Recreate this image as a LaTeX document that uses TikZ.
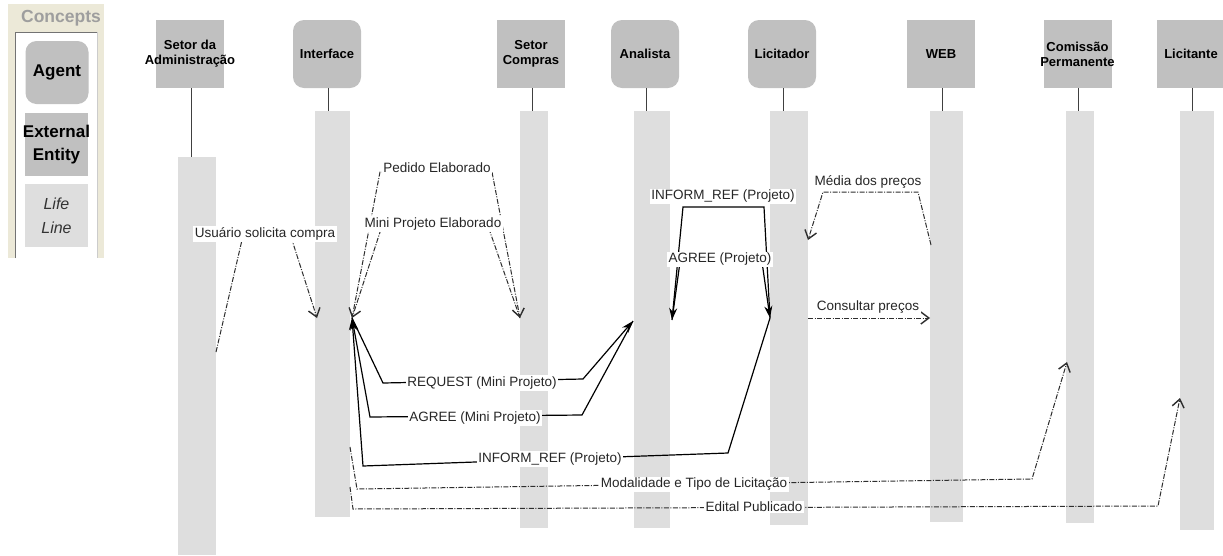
\documentclass[tikz,border=0pt]{standalone}
\usepackage{fontspec}
\setmainfont{Liberation Sans}
\usetikzlibrary{arrows.meta}
\definecolor{hdr}{HTML}{C0C0C0}
\definecolor{barfill}{HTML}{DEDEDE}
\definecolor{panel}{HTML}{ECE9D8}
\definecolor{dline}{HTML}{2E2E2E}

\begin{document}
\begin{tikzpicture}[x=1pt,y=-1pt,
  hdrbox/.style={fill=hdr, minimum width=68pt, minimum height=68pt, inner sep=0pt},
  agentbox/.style={hdrbox, rounded corners=11pt},
  hdrtext/.style={align=center, inner sep=0pt, font=\bfseries\fontsize{13}{15}\selectfont},
  legtext/.style={align=center, inner sep=0pt, font=\bfseries\fontsize{17}{23}\selectfont},
  lifebar/.style={fill=barfill, inner sep=0pt},
  stem/.style={draw=black!75, line width=1pt},
  msg/.style={draw=black, line width=1.2pt, -{Stealth[length=12pt,width=8pt]}},
  msgd/.style={draw=dline, line width=1pt, dash pattern=on 5pt off 1.5pt on 1pt off 1.5pt,
               -{Straight Barb[length=8pt,width=12pt,line width=1.4pt]}},
  lbl/.style={fill=white, inner sep=1.5pt, font=\fontsize{13.5}{16}\selectfont, text=black!85},
]
\useasboundingbox (0,0) rectangle (1223,555);
\fill[white] (0,0) rectangle (1223,555);

% ---- legend panel ----
\fill[panel] (8,4) rectangle (104,258);
\fill[white] (15,32) rectangle (97,258);
\draw[black!55, line width=1pt] (15,258) -- (15,32) -- (97,32);
\draw[black!20] (97,32) -- (97,258);
\node[font=\bfseries\fontsize{17.5}{18}\selectfont, text=black!38] (lgTitle) at (61,18) {Concepts};
\node[agentbox, minimum width=63pt, minimum height=63pt] (lgAgent) at (57,72.5) {};
\node[legtext] at (lgAgent) {Agent};
\node[hdrbox, minimum width=63pt, minimum height=63pt] (lgExt) at (56.5,144.5) {};
\node[legtext] at (lgExt) {External\\Entity};
\node[lifebar, minimum width=63pt, minimum height=63pt] (lgLife) at (56.5,215.5) {};
\node[legtext, font=\itshape\fontsize{16}{24}\selectfont, text=black!80] at (lgLife) {Life\\Line};

% ---- role headers ----
\node[hdrbox]   (hAdm) at (190,54) {};
\node[agentbox] (hIf)  at (327,54) {};
\node[hdrbox]   (hCo)  at (531,54) {};
\node[agentbox] (hAn)  at (645,54) {};
\node[agentbox] (hLi)  at (782,54) {};
\node[hdrbox]   (hWe)  at (941,54) {};
\node[hdrbox]   (hCm)  at (1077.5,54) {};
\node[hdrbox]   (hLt)  at (1191,54) {};
\node[hdrtext] at (hAdm) {Setor da\\Administração};
\node[hdrtext] at (hIf) {Interface};
\node[hdrtext] at (hCo) {Setor\\Compras};
\node[hdrtext] at (hAn) {Analista};
\node[hdrtext] at (hLi) {Licitador};
\node[hdrtext] at (hWe) {WEB};
\node[hdrtext] at (hCm) {Comissão\\Permanente};
\node[hdrtext] at (hLt) {Licitante};

% ---- life lines ----
\node[lifebar, minimum width=38pt, minimum height=398pt] (bAdm) at (197,356) {};
\node[lifebar, minimum width=35pt, minimum height=406pt] (bIf)  at (332.5,314) {};
\node[lifebar, minimum width=28pt, minimum height=417pt] (bCo)  at (534,319.5) {};
\node[lifebar, minimum width=36pt, minimum height=417pt] (bAn)  at (652,319.5) {};
\node[lifebar, minimum width=38pt, minimum height=414pt] (bLi)  at (789,318) {};
\node[lifebar, minimum width=33pt, minimum height=411pt] (bWe)  at (946.5,316.5) {};
\node[lifebar, minimum width=28pt, minimum height=412pt] (bCm)  at (1080,317) {};
\node[lifebar, minimum width=34pt, minimum height=419pt] (bLt)  at (1197,320.5) {};

\foreach \h/\b in {hAdm/bAdm, hIf/bIf, hCo/bCo, hAn/bAn, hLi/bLi, hWe/bWe, hCm/bCm, hLt/bLt}
  \draw[stem] ([xshift=1pt]\h.south) -- ([xshift=1pt]\h.south |- \b.north);

% ---- message end points on the life lines ----
\coordinate (admU) at (216,352);
\coordinate (ifU)  at (317,318);
\coordinate (ifA)  at (352,318);
\coordinate (ifM)  at (350,447);
\coordinate (ifE)  at (350,487);
\coordinate (coA)  at (520,318);
\coordinate (anL)  at (633,321);
\coordinate (anR)  at (672,320);
\coordinate (liL)  at (770,318);
\coordinate (liW)  at (808,240);
\coordinate (liC)  at (808,318);
\coordinate (weW)  at (931,245);
\coordinate (weC)  at (930,318);
\coordinate (cmM)  at (1067,362);
\coordinate (ltE)  at (1180,398);

% ---- messages ----
\draw[msgd] (admU) -- (242,240) -- (292,240) -- (ifU);
\draw[msgd] (ifA) -- (380,172) -- (492,172) -- (coA);
\draw[msgd] (coA) -- (488,226) -- (382,226) -- (ifA);
\draw[msg]  (ifA) -- (383,383) -- (583,379) -- (anL);
\draw[msg]  (anL) -- (582,415) -- (370,417) -- (ifA);
\draw[msg]  (liL) -- (728,453) -- (363,466) -- (ifA);
\draw[msg]  (liL) -- (764,207) -- (683,207) -- (anR);
\draw[msg]  (anR) -- (680,262) -- (762,262) -- (liL);
\draw[msgd] (weW) -- (918,192) -- (823,192) -- (liW);
\draw[msgd] (liC) -- (weC);
\draw[msgd] (ifM) -- (357,489) -- (1032,479) -- (cmM);
\draw[msgd] (ifE) -- (353,509) -- (1158,506) -- (ltE);

% ---- message labels ----
\node[lbl] (tUsu) at (265,234)   {Usuário solicita compra};
\node[lbl] (tPed) at (437,168)   {Pedido Elaborado};
\node[lbl] (tMin) at (433,224)   {Mini Projeto Elaborado};
\node[lbl] (tReq) at (482,383)   {REQUEST (Mini Projeto)};
\node[lbl] (tAgm) at (475,418)   {AGREE (Mini Projeto)};
\node[lbl] (tInb) at (550,459)   {INFORM\_REF (Projeto)};
\node[lbl] (tInt) at (723,196.5) {INFORM\_REF (Projeto)};
\node[lbl] (tAgp) at (720,259.5) {AGREE (Projeto)};
\node[lbl] (tMed) at (868,182)   {Média dos preços};
\node[lbl] (tCon) at (868,307)   {Consultar preços};
\node[lbl] (tMod) at (694,484.5) {Modalidade e Tipo de Licitação};
\node[lbl] (tEdi) at (754,507)   {Edital Publicado};
\end{tikzpicture}
\end{document}
